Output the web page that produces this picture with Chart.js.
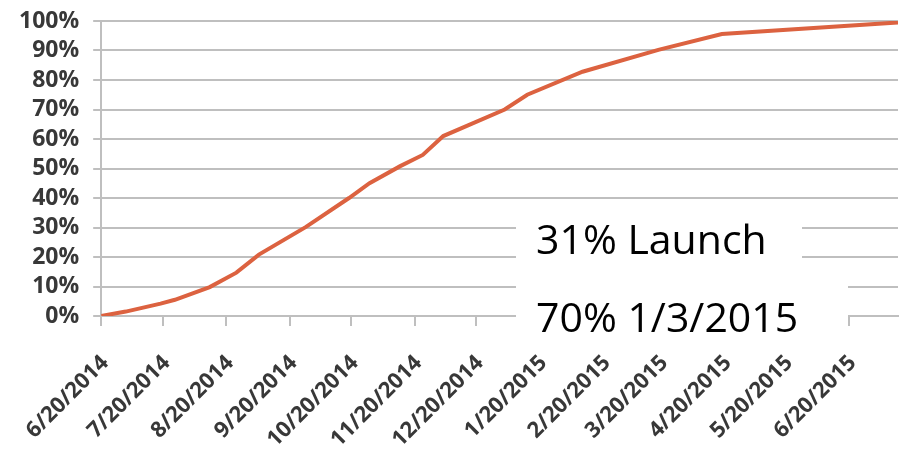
<!DOCTYPE html>
<html>
<head>
<meta charset="utf-8">
<script src="https://cdn.jsdelivr.net/npm/chart.js@4"></script>
<style>
  html, body { margin: 0; padding: 0; background: #fff; }
  #wrap { width: 905px; height: 453px; }
</style>
</head>
<body>
<div id="wrap"><canvas id="chart"></canvas></div>
<script>
// Cumulative completion
var pointDates = ['6/20/2014', '7/2/2014', '7/19/2014', '7/26/2014', '8/12/2014', '8/25/2014',
    '9/5/2014', '9/28/2014', '10/19/2014', '10/29/2014', '11/13/2014', '11/24/2014', '12/4/2014',
    '1/3/2015', '1/14/2015', '2/10/2015', '3/19/2015', '4/19/2015', '7/14/2015'];
var pointValues = [0, 1.5, 4.2, 5.5, 9.8, 14.7, 20.8, 30.2, 40, 45, 50.8, 54.6, 61,
    70, 75, 82.8, 90.2, 95.6, 99.5];

var tickLabels = ['6/20/2014', '7/20/2014', '8/20/2014', '9/20/2014', '10/20/2014', '11/20/2014',
    '12/20/2014', '1/20/2015', '2/20/2015', '3/20/2015', '4/20/2015', '5/20/2015', '6/20/2015'];

var noteLines = ['31% Launch', '70% 1/3/2015'];

var startDay = Date.UTC(2014, 5, 20);
function dayOf(s) {
    var p = s.split('/');
    return (Date.UTC(+p[2], +p[0] - 1, +p[1]) - startDay) / 86400000;
}

var points = pointDates.map(function(d, i) { return { x: dayOf(d), y: pointValues[i] }; });
var tickDays = tickLabels.map(dayOf);

var gridGray = '#bfbfbf';

// white text box with the two notes
var notePlugin = {
    id: 'note',
    afterDatasetsDraw: function(chart) {
        var ctx = chart.ctx;
        ctx.save();
        ctx.fillStyle = '#fff';
        ctx.fillRect(516, 199, 286, 66);
        ctx.fillRect(516, 265, 332, 82);
        ctx.fillStyle = '#000';
        ctx.font = '41px "Open Sans", sans-serif';
        ctx.textBaseline = 'alphabetic';
        ctx.fillText(noteLines[0], 536, 254);
        ctx.fillText(noteLines[1], 536, 332);
        ctx.restore();
    }
};

new Chart(document.getElementById('chart').getContext('2d'), {
    type: 'line',
    data: {
        datasets: [{
            data: points,
            borderColor: '#dc6240',
            borderWidth: 4,
            pointRadius: 0,
            tension: 0,
            fill: false
        }]
    },
    options: {
        responsive: true,
        maintainAspectRatio: false,
        animation: false,
        layout: { padding: { top: 21, right: 7, left: 5, bottom: 0 } },
        plugins: { legend: { display: false }, tooltip: { enabled: false } },
        scales: {
            x: {
                type: 'linear',
                min: 0,
                max: dayOf(pointDates[pointDates.length - 1]),
                afterBuildTicks: function(scale) {
                    scale.ticks = tickDays.map(function(v) { return { value: v }; });
                },
                afterFit: function(scale) { scale.height = 137; },
                grid: { drawOnChartArea: false, drawTicks: true, tickLength: 10, color: gridGray, lineWidth: 2 },
                border: { display: true, color: gridGray, width: 2 },
                ticks: {
                    autoSkip: false,
                    minRotation: 45,
                    maxRotation: 45,
                    padding: 24,
                    labelOffset: 4,
                    color: '#383838',
                    font: { family: '"Open Sans", sans-serif', size: 22, weight: 'bold' },
                    callback: function(v, i) { return tickLabels[i]; }
                }
            },
            y: {
                min: 0,
                max: 100,
                afterFit: function(scale) { scale.paddingTop = 0; scale.paddingBottom = 0; },
                grid: { color: gridGray, lineWidth: 2, tickLength: 8 },
                border: { display: true, color: gridGray, width: 2 },
                ticks: {
                    stepSize: 10,
                    autoSkip: false,
                    padding: 14,
                    color: '#383838',
                    font: { family: '"Open Sans", sans-serif', size: 23, weight: 'bold' },
                    callback: function(v) { return v + '%'; }
                }
            }
        }
    },
    plugins: [notePlugin]
});
</script>
</body>
</html>
